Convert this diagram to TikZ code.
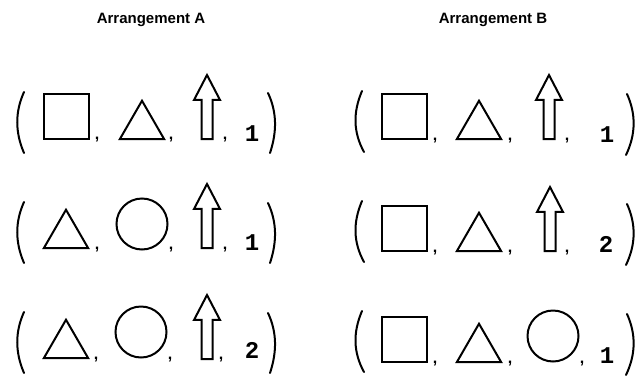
\documentclass[tikz,border=0pt]{standalone}
\usepackage{fontspec}
\setmainfont{Liberation Sans}
\newfontfamily\digitfont{Liberation Mono}
\usetikzlibrary{shapes.geometric,shapes.arrows}

\begin{document}
\begin{tikzpicture}[
    x=1pt, y=-1pt,
    title/.style={font=\fontsize{15}{17}\selectfont\bfseries},
    sq/.style={draw, line width=2pt, rectangle, minimum size=45pt, inner sep=0pt, anchor=south},
    tri/.style={draw, line width=2pt, regular polygon, regular polygon sides=3,
                minimum size=51pt, inner sep=0pt, anchor=south},
    circ/.style={draw, line width=2pt, circle, minimum size=51pt, inner sep=0pt},
    uparr/.style={draw, line width=2pt, single arrow, rotate=90, anchor=tail,
                  minimum height=64pt, inner sep=4.5pt, single arrow head extend=7.5pt,
                  single arrow tip angle=55, single arrow head indent=0pt},
    sep/.style={font=\fontsize{16}{16}\selectfont\bfseries, anchor=base, inner sep=0pt},
    num/.style={font=\digitfont\fontsize{24}{24}\selectfont\bfseries, anchor=base, inner sep=0pt},
    paren/.style={line width=2pt, line cap=round}
]
\useasboundingbox (0,0) rectangle (639,375);

% ---- headings ----
\node[title] (headA) at (151,20) {Arrangement A};
\node[title] (headB) at (493,20) {Arrangement B};

% ---- brackets, one pair per row and arrangement ----
\foreach \c in {122, 232, 342} {
  \draw[paren] (24,\c-30) .. controls (15,\c-10) and (15,\c+10) .. (24,\c+31);
  \draw[paren] (268,\c-29) .. controls (277,\c-10) and (277,\c+10) .. (270,\c+31);
  \draw[paren] (362,\c-31) .. controls (353,\c-10) and (353,\c+10) .. (364,\c+30);
  \draw[paren] (627,\c-28) .. controls (636,\c-8) and (636,\c+12) .. (626,\c+33);
}

% ---- arrangement A ----
\node[sq] (a1sq) at (66,140) {};
\node[sep] (a1c1) at (97,139) {,};
\node[tri] (a1tri) at (142,140) {};
\node[sep] (a1c2) at (171,139) {,};
\node[uparr] (a1arr) at (207,140) {};
\node[sep] (a1c3) at (225,139) {,};
\node[num] (a1n) at (252,141) {1};

\node[tri] (a2tri) at (66,249) {};
\node[sep] (a2c1) at (97,249) {,};
\node[circ] (a2circ) at (142,224) {};
\node[sep] (a2c2) at (171,249) {,};
\node[uparr] (a2arr) at (207,249) {};
\node[sep] (a2c3) at (225,249) {,};
\node[num] (a2n) at (252,250) {1};

\node[tri] (a3tri) at (66,359) {};
\node[sep] (a3c1) at (96,359) {,};
\node[circ] (a3circ) at (141,332) {};
\node[sep] (a3c2) at (170,359) {,};
\node[uparr] (a3arr) at (207,360) {};
\node[sep] (a3c3) at (221,359) {,};
\node[num] (a3n) at (252,358) {2};

% ---- arrangement B ----
\node[sq] (b1sq) at (404,140) {};
\node[sep] (b1c1) at (435,140) {,};
\node[tri] (b1tri) at (479,140) {};
\node[sep] (b1c2) at (510,140) {,};
\node[uparr] (b1arr) at (549,140) {};
\node[sep] (b1c3) at (567,140) {,};
\node[num] (b1n) at (607,142) {1};

\node[sq] (b2sq) at (404,252) {};
\node[sep] (b2c1) at (435,252) {,};
\node[tri] (b2tri) at (479,252) {};
\node[sep] (b2c2) at (510,252) {,};
\node[uparr] (b2arr) at (550,252) {};
\node[sep] (b2c3) at (567,252) {,};
\node[num] (b2n) at (606,252) {2};

\node[sq] (b3sq) at (404,363) {};
\node[sep] (b3c1) at (435,363) {,};
\node[tri] (b3tri) at (479,363) {};
\node[sep] (b3c2) at (510,363) {,};
\node[circ] (b3circ) at (553,336) {};
\node[sep] (b3c3) at (582,363) {,};
\node[num] (b3n) at (607,363) {1};

\end{tikzpicture}
\end{document}
